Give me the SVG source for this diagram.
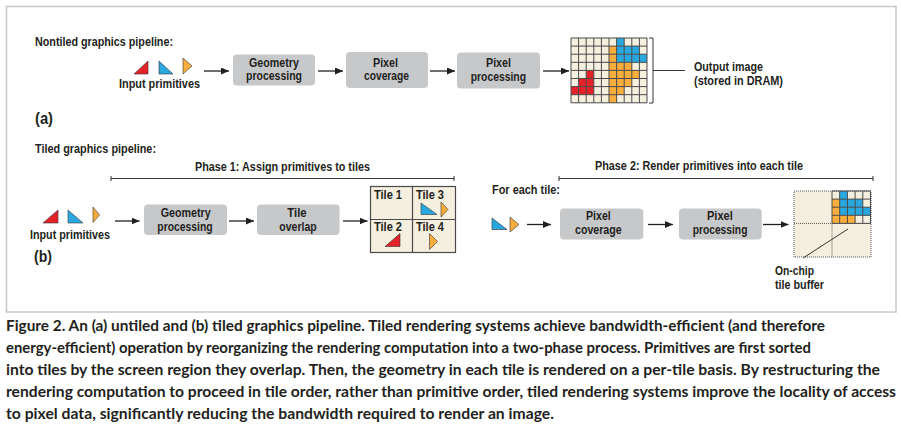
<svg xmlns="http://www.w3.org/2000/svg" width="901" height="427" viewBox="0 0 901 427">
<defs>
<style>
.lbl{font-family:"Liberation Sans",Arial,sans-serif;font-weight:bold;font-size:12.5px;fill:#231f20}
.big{font-family:"Liberation Sans",Arial,sans-serif;font-weight:bold;font-size:16px;fill:#231f20}
.cap{font-family:Lato,"Open Sans","Liberation Sans",sans-serif;font-weight:bold;font-size:14.5px;fill:#231f20}
.box{fill:#c7c8ca;stroke:none}
.cr{fill:#f4efdf}
.r{fill:#e3222a}
.b{fill:#29a8e0}
.o{fill:#f9ad3c}
.tri{stroke:#333;stroke-width:0.6;stroke-linejoin:round}
.gl{fill:none;stroke:#4a4a4a;stroke-width:1}
.conn{stroke:#231f20;stroke-width:1.3;fill:none}
.thin{stroke:#231f20;stroke-width:0.9;fill:none}
.dot{fill:none;stroke:#555;stroke-width:1;stroke-dasharray:1 1}
</style>
<marker id="ah" markerUnits="userSpaceOnUse" markerWidth="9" markerHeight="8" refX="8" refY="3.5" orient="auto">
<path d="M0,0 L8,3.5 L0,7 z" fill="#231f20"/>
</marker>
</defs>
<rect width="901" height="427" fill="#fff"/>
<rect x="6.5" y="6.5" width="889.5" height="305.5" fill="none" stroke="#c8c8c8" stroke-width="1.5"/>

<!-- (a) nontiled pipeline -->
<text class="lbl" x="35" y="46" textLength="138" lengthAdjust="spacingAndGlyphs">Nontiled graphics pipeline:</text>
<text class="big" x="35" y="124" textLength="18" lengthAdjust="spacingAndGlyphs">(a)</text>

<g id="a-input">
<polygon class="tri r" points="134,74 148,61 148,74"/>
<polygon class="tri b" points="159,61 159,74 173,74"/>
<polygon class="tri o" points="183,58 192,66 183,74"/>
<text class="lbl" x="119" y="88" textLength="81" lengthAdjust="spacingAndGlyphs">Input primitives</text>
</g>
<g id="a-geometry">
<rect class="box" x="233" y="54.5" width="82" height="31" rx="4"/>
<text class="lbl" x="249" y="67" textLength="50" lengthAdjust="spacingAndGlyphs">Geometry</text>
<text class="lbl" x="246" y="80" textLength="56" lengthAdjust="spacingAndGlyphs">processing</text>
</g>
<g id="a-coverage">
<rect class="box" x="346" y="52" width="82" height="36" rx="4"/>
<text class="lbl" x="373" y="66.5" textLength="25" lengthAdjust="spacingAndGlyphs">Pixel</text>
<text class="lbl" x="364" y="80" textLength="45" lengthAdjust="spacingAndGlyphs">coverage</text>
</g>
<g id="a-processing">
<rect class="box" x="457" y="52.5" width="83" height="36" rx="4"/>
<text class="lbl" x="486" y="66.7" textLength="25" lengthAdjust="spacingAndGlyphs">Pixel</text>
<text class="lbl" x="470.7" y="81" textLength="55.3" lengthAdjust="spacingAndGlyphs">processing</text>
</g>
<g id="a-output">
<rect class="cr" x="571" y="38" width="76" height="64.8"/>
<g class="b">
<rect x="616.6" y="38" width="7.6" height="8.1"/>
<rect x="616.6" y="46.1" width="22.8" height="8.1"/>
<rect x="616.6" y="54.2" width="30.4" height="8.1"/>
</g>
<g class="o">
<rect x="609" y="46.1" width="7.6" height="16.2"/>
<rect x="609" y="62.3" width="22.8" height="8.1"/>
<rect x="609" y="70.4" width="30.4" height="8.1"/>
<rect x="609" y="78.5" width="22.8" height="8.1"/>
<rect x="609" y="86.6" width="15.2" height="8.1"/>
<rect x="609" y="94.7" width="7.6" height="8.1"/>
</g>
<g class="r">
<rect x="586.2" y="70.4" width="7.6" height="8.1"/>
<rect x="578.6" y="78.5" width="15.2" height="8.1"/>
<rect x="571" y="86.6" width="22.8" height="8.1"/>
</g>
<path class="gl" d="M571,38V102.8M578.6,38V102.8M586.2,38V102.8M593.8,38V102.8M601.4,38V102.8M609,38V102.8M616.6,38V102.8M624.2,38V102.8M631.8,38V102.8M639.4,38V102.8M647,38V102.8M571,38H647M571,46.1H647M571,54.2H647M571,62.3H647M571,70.4H647M571,78.5H647M571,86.6H647M571,94.7H647M571,102.8H647"/>
<path class="thin" d="M649,38H653V103H649M653,70.5H685"/>
<text class="lbl" x="694" y="71" textLength="69" lengthAdjust="spacingAndGlyphs">Output image</text>
<text class="lbl" x="694" y="84.5" textLength="89" lengthAdjust="spacingAndGlyphs">(stored in DRAM)</text>
</g>

<!-- (b) tiled pipeline -->
<text class="lbl" x="35" y="153" textLength="121" lengthAdjust="spacingAndGlyphs">Tiled graphics pipeline:</text>
<text class="big" x="34" y="262" textLength="18" lengthAdjust="spacingAndGlyphs">(b)</text>

<g id="phase1">
<text class="lbl" x="195" y="171" textLength="175" lengthAdjust="spacingAndGlyphs">Phase 1: Assign primitives to tiles</text>
<path class="thin" d="M111,178.5H454M111,176V181M454,176V181"/>
</g>
<g id="phase2">
<text class="lbl" x="595" y="170" textLength="208" lengthAdjust="spacingAndGlyphs">Phase 2: Render primitives into each tile</text>
<path class="thin" d="M559,178.5H873M559,176V181M873,176V181"/>
<text class="lbl" x="492" y="194" textLength="68" lengthAdjust="spacingAndGlyphs">For each tile:</text>
</g>

<g id="b-input">
<polygon class="tri r" points="43,223 58,210 58,223"/>
<polygon class="tri b" points="68,210 68,223 83,223"/>
<polygon class="tri o" points="93,207 99.5,215 93,222.5"/>
<text class="lbl" x="30" y="239" textLength="80" lengthAdjust="spacingAndGlyphs">Input primitives</text>
</g>
<g id="b-geometry">
<rect class="box" x="144" y="204.5" width="83" height="30.5" rx="4"/>
<text class="lbl" x="160.7" y="216.5" textLength="50" lengthAdjust="spacingAndGlyphs">Geometry</text>
<text class="lbl" x="157.3" y="230.5" textLength="55.3" lengthAdjust="spacingAndGlyphs">processing</text>
</g>
<g id="b-overlap">
<rect class="box" x="257" y="204.5" width="82.5" height="30.5" rx="4"/>
<text class="lbl" x="287.3" y="216.5" textLength="19.4" lengthAdjust="spacingAndGlyphs">Tile</text>
<text class="lbl" x="279.3" y="230.5" textLength="37.4" lengthAdjust="spacingAndGlyphs">overlap</text>
</g>
<g id="b-tiles">
<rect class="cr" x="370.5" y="186.5" width="85" height="66" stroke="#4a4a4a" stroke-width="1.2"/>
<path d="M412.5,186.5V252.5M370.5,219.5H455.5" stroke="#4a4a4a" stroke-width="1.2" fill="none"/>
<text class="lbl" x="374" y="198.5" textLength="28" lengthAdjust="spacingAndGlyphs">Tile 1</text>
<text class="lbl" x="416" y="198.5" textLength="28" lengthAdjust="spacingAndGlyphs">Tile 3</text>
<text class="lbl" x="374" y="230.5" textLength="28" lengthAdjust="spacingAndGlyphs">Tile 2</text>
<text class="lbl" x="416" y="230.5" textLength="28" lengthAdjust="spacingAndGlyphs">Tile 4</text>
<polygon class="tri b" points="421,203 421,214.5 437,214.5"/>
<polygon class="tri o" points="441,202 448,209.5 441,217"/>
<polygon class="tri r" points="385,246.5 400,233.5 400,246.5"/>
<polygon class="tri o" points="429.5,233.5 437.5,241.5 429.5,249.5"/>
</g>

<g id="c-input">
<polygon class="tri b" points="492,218 492,229.5 507,229.5"/>
<polygon class="tri o" points="510,217 519,224.5 510,232"/>
</g>
<g id="c-coverage">
<rect class="box" x="560" y="208.5" width="83.3" height="31" rx="4"/>
<text class="lbl" x="586" y="219.5" textLength="24.7" lengthAdjust="spacingAndGlyphs">Pixel</text>
<text class="lbl" x="575" y="234" textLength="46.7" lengthAdjust="spacingAndGlyphs">coverage</text>
</g>
<g id="c-processing">
<rect class="box" x="679" y="208.5" width="82.7" height="31" rx="4"/>
<text class="lbl" x="707" y="219.5" textLength="25.7" lengthAdjust="spacingAndGlyphs">Pixel</text>
<text class="lbl" x="692.7" y="234" textLength="54.7" lengthAdjust="spacingAndGlyphs">processing</text>
</g>
<g id="c-buffer">
<rect class="cr" x="794" y="191" width="77" height="66"/>
<g class="b">
<rect x="839.7" y="191" width="7.7" height="8.1"/>
<rect x="839.7" y="199.1" width="23.1" height="8.1"/>
<rect x="839.7" y="207.2" width="30.8" height="8.1"/>
</g>
<g class="o">
<rect x="832" y="199.1" width="7.7" height="16.2"/>
<rect x="832" y="215.3" width="23.1" height="8.1"/>
</g>
<path class="gl" d="M832,191V223.4M839.7,191V223.4M847.4,191V223.4M855.1,191V223.4M862.8,191V223.4M870.5,191V223.4M832,191H870.5M832,199.1H870.5M832,207.2H870.5M832,215.3H870.5M832,223.4H870.5"/>
<rect class="dot" x="794" y="191" width="77" height="66"/>
<path class="dot" d="M832,223.4V257M794,223.4H871"/>
<path class="thin" d="M848,229L803,258"/>
<text class="lbl" x="775" y="274.5" textLength="39" lengthAdjust="spacingAndGlyphs">On-chip</text>
<text class="lbl" x="775" y="288.5" textLength="49" lengthAdjust="spacingAndGlyphs">tile buffer</text>
</g>

<g id="connectors">
<line class="conn" x1="204" y1="71" x2="229" y2="71" marker-end="url(#ah)"/>
<line class="conn" x1="318" y1="71" x2="343" y2="71" marker-end="url(#ah)"/>
<line class="conn" x1="430" y1="71" x2="455" y2="71" marker-end="url(#ah)"/>
<line class="conn" x1="543" y1="71" x2="569" y2="71" marker-end="url(#ah)"/>
<line class="conn" x1="115" y1="221" x2="139.5" y2="221" marker-end="url(#ah)"/>
<line class="conn" x1="229" y1="221" x2="254" y2="221" marker-end="url(#ah)"/>
<line class="conn" x1="343" y1="221" x2="367.5" y2="221" marker-end="url(#ah)"/>
<line class="conn" x1="527" y1="224.5" x2="551" y2="224.5" marker-end="url(#ah)"/>
<line class="conn" x1="648" y1="224.5" x2="673" y2="224.5" marker-end="url(#ah)"/>
<line class="conn" x1="763" y1="224.5" x2="788.5" y2="224.5" marker-end="url(#ah)"/>
</g>

<g id="caption">
<text class="cap" x="6" y="330.5" textLength="819" lengthAdjust="spacingAndGlyphs">Figure 2. An (a) untiled and (b) tiled graphics pipeline. Tiled rendering systems achieve bandwidth-efficient (and therefore</text>
<text class="cap" x="6" y="352.5" textLength="805" lengthAdjust="spacingAndGlyphs">energy-efficient) operation by reorganizing the rendering computation into a two-phase process. Primitives are first sorted</text>
<text class="cap" x="6" y="374.5" textLength="874" lengthAdjust="spacingAndGlyphs">into tiles by the screen region they overlap. Then, the geometry in each tile is rendered on a per-tile basis. By restructuring the</text>
<text class="cap" x="6" y="396.5" textLength="890" lengthAdjust="spacingAndGlyphs">rendering computation to proceed in tile order, rather than primitive order, tiled rendering systems improve the locality of access</text>
<text class="cap" x="6" y="418.5" textLength="548" lengthAdjust="spacingAndGlyphs">to pixel data, significantly reducing the bandwidth required to render an image.</text>
</g>
</svg>
